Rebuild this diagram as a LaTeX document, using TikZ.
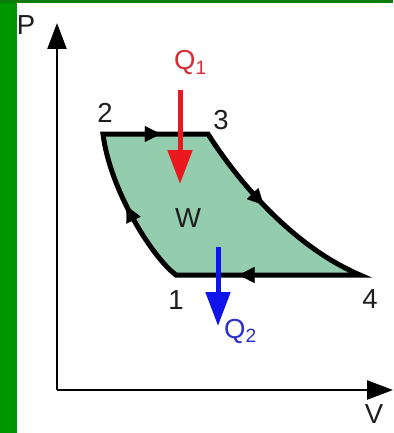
\documentclass[tikz,border=0pt]{standalone}
\usepackage{fontspec}
\setmainfont{Liberation Sans}
\usetikzlibrary{arrows.meta,decorations.markings}
\definecolor{bandtop}{RGB}{12,125,12}
\definecolor{bandleft}{RGB}{0,150,0}
\definecolor{cyclefill}{RGB}{148,204,174}
\definecolor{qred}{RGB}{235,25,30}
\definecolor{qredtext}{RGB}{215,45,55}
\definecolor{qblue}{RGB}{15,20,235}
\definecolor{qbluetext}{RGB}{45,50,205}
\definecolor{labeltext}{RGB}{30,30,30}
\tikzset{
  axisline/.style={line width=2.4pt, -{Triangle[length=26pt,width=19pt]}},
  cycleline/.style={line width=5pt, line join=miter},
  midarrow/.style={postaction={decorate}, decoration={markings,
      mark=at position #1 with {\arrow{Triangle[length=16pt,width=16pt]}}}},
  heatarrow/.style={line width=5pt, -{Triangle[length=34pt,width=24pt]}},
  lbl/.style={font=\fontsize{27.5}{30}\selectfont, text=labeltext, inner sep=0pt},
}
\begin{document}
\begin{tikzpicture}[x=1pt,y=-1pt]
\useasboundingbox (0,0) rectangle (393,433);
\fill[white] (0,0) rectangle (393,433);
\fill[bandleft] (0,0) rectangle (16.5,433);
\fill[bandtop] (0,0) rectangle (393,3.3);
% axes
\coordinate (O) at (57,390);
\coordinate (Ptip) at (57,23);
\coordinate (Vtip) at (393,390);
\draw[axisline] (O) -- (Ptip);
\draw[axisline] (O) -- (Vtip);
\node[lbl] (Plbl) at (26,25) {P};
\node[lbl] (Vlbl) at (374,414) {V};
% cycle points
\coordinate (p1) at (176,275);
\coordinate (p2) at (103,134);
\coordinate (p3) at (208,134);
\coordinate (p4) at (360,275);
\fill[cyclefill] (p1) .. controls (152,257) and (110,190) .. (p2) -- (p3)
  .. controls (236,178) and (290,245) .. (p4) -- cycle;
\draw[cycleline] (p1) .. controls (152,257) and (110,190) .. (p2) -- (p3)
  .. controls (236,178) and (290,245) .. (p4) -- cycle;
\path[midarrow=0.53] (p1) .. controls (152,257) and (110,190) .. (p2);
\path[midarrow=0.55] (p2) -- (p3);
\path[midarrow=0.43] (p3) .. controls (236,178) and (290,245) .. (p4);
\path[midarrow=0.66] (p4) -- (p1);
\node[lbl] (l1) at (176,300) {1};
\node[lbl] (l2) at (105,113) {2};
\node[lbl] (l3) at (221,120) {3};
\node[lbl] (l4) at (370,299) {4};
\node[lbl] (W) at (188,218) {W};
% heat arrows
\coordinate (q1s) at (180,90);
\coordinate (q1e) at (180,184);
\draw[heatarrow, qred] (q1s) -- (q1e);
\node[lbl, text=qredtext, anchor=base west] (Q1) at (174,70) {Q\textsubscript{1}};
\coordinate (q2s) at (218,247);
\coordinate (q2e) at (218,326);
\draw[heatarrow, qblue] (q2s) -- (q2e);
\node[lbl, text=qbluetext, anchor=base west] (Q2) at (224,338) {Q\textsubscript{2}};
\end{tikzpicture}
\end{document}
